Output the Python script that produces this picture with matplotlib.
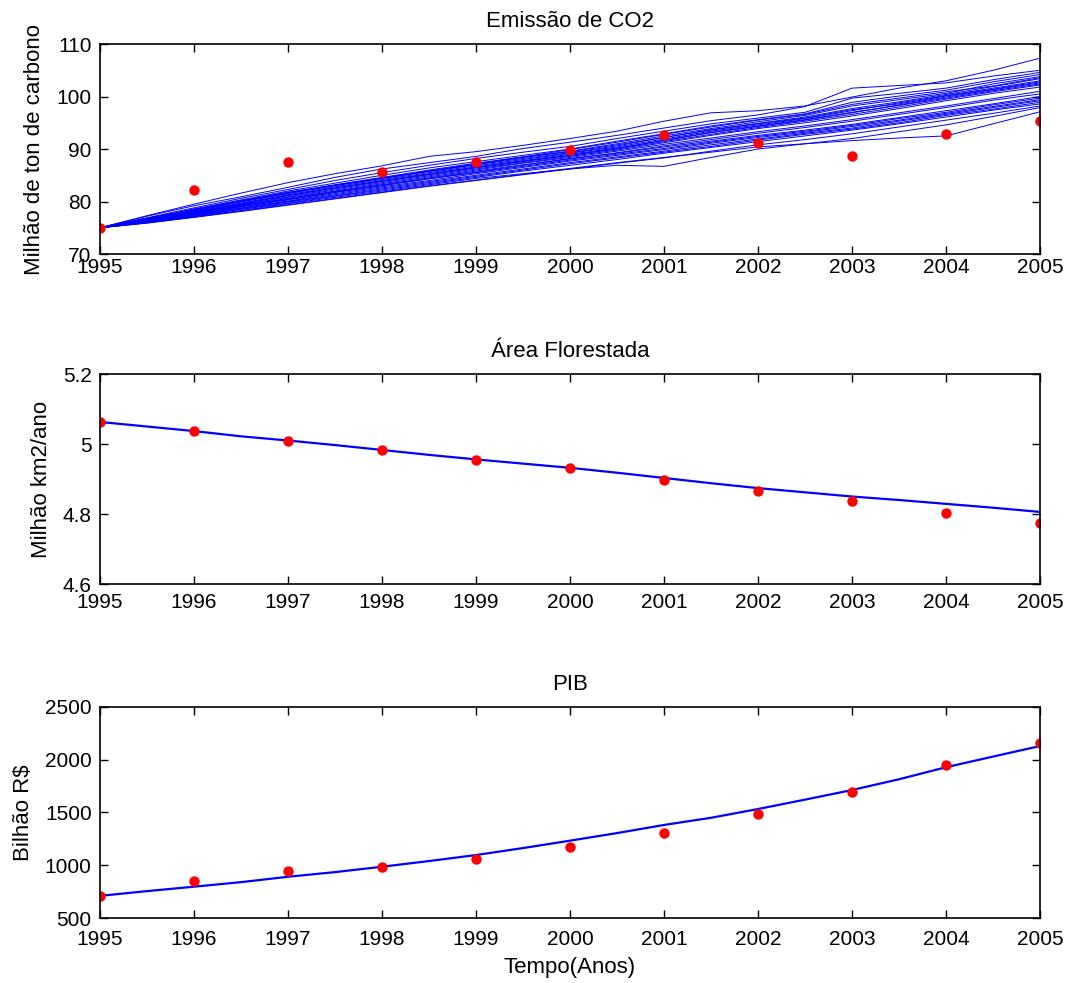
import matplotlib
matplotlib.use("Agg")
import matplotlib.pyplot as plt
import numpy as np

plt.rcParams['font.family'] = ['Liberation Sans', 'DejaVu Sans']

anos = [1995, 1996, 1997, 1998, 1999, 2000, 2001, 2002, 2003, 2004, 2005]
# simulation time grid (half-year steps)
t_sim = [1995.0, 1995.5, 1996.0, 1996.5, 1997.0, 1997.5, 1998.0, 1998.5, 1999.0, 1999.5,
         2000.0, 2000.5, 2001.0, 2001.5, 2002.0, 2002.5, 2003.0, 2003.5, 2004.0, 2004.5, 2005.0]

# observed data
co2_obs = [75.0, 82.1, 87.6, 85.7, 87.6, 89.9, 92.6, 91.2, 88.6, 92.8, 95.4]
area_obs = [5.063, 5.037, 5.009, 4.983, 4.954, 4.931, 4.897, 4.866, 4.837, 4.803, 4.774]
pib_obs = [708, 851, 948, 980, 1062, 1176, 1308, 1486, 1697, 1947, 2156]

# CO2 simulation runs
co2_runs = [
    [75.0, 77.3, 79.5, 81.6, 83.6, 85.3, 86.8, 88.6, 89.5, 90.7, 92.0, 93.4, 95.3, 96.9, 97.3, 98.2, 99.9, 101.6, 103.0, 105.0, 107.3],
    [75.0, 77.2, 79.2, 80.9, 82.7, 84.6, 86.2, 87.4, 88.6, 90.1, 91.3, 92.6, 94.0, 95.4, 96.5, 98.1, 101.6, 102.1, 102.6, 103.9, 105.0],
    [75.0, 76.9, 78.8, 80.6, 82.3, 84.0, 85.5, 86.9, 88.2, 89.4, 90.5, 92.0, 93.4, 94.8, 95.9, 97.0, 99.7, 100.6, 101.6, 103.2, 104.6],
    [75.0, 76.8, 78.6, 80.3, 82.0, 83.5, 85.0, 86.4, 87.6, 88.8, 90.0, 91.5, 92.9, 94.4, 95.6, 96.7, 98.9, 100.1, 101.2, 102.8, 104.2],
    [75.0, 76.7, 78.4, 80.1, 81.7, 83.2, 84.6, 86.0, 87.3, 88.5, 89.6, 91.0, 92.5, 93.9, 95.2, 96.4, 98.2, 99.4, 100.6, 102.4, 103.8],
    [75.0, 76.6, 78.2, 79.9, 81.5, 83.0, 84.4, 85.7, 87.0, 88.2, 89.3, 90.6, 92.2, 93.7, 94.9, 96.1, 97.7, 99.0, 100.4, 101.9, 103.4],
    [75.0, 76.5, 78.1, 79.7, 81.3, 82.8, 84.2, 85.5, 86.8, 88.0, 89.2, 90.4, 91.9, 93.4, 94.6, 95.8, 97.3, 98.8, 100.2, 101.6, 103.0],
    [75.0, 76.5, 78.0, 79.5, 81.1, 82.6, 84.0, 85.3, 86.6, 87.8, 89.0, 90.2, 91.6, 93.1, 94.3, 95.5, 96.9, 98.4, 99.9, 101.3, 102.6],
    [75.0, 76.4, 77.9, 79.4, 80.9, 82.4, 83.8, 85.1, 86.4, 87.6, 88.8, 90.0, 91.4, 92.8, 94.1, 95.3, 96.6, 98.0, 99.5, 100.9, 102.2],
    [75.0, 76.4, 77.8, 79.3, 80.8, 82.2, 83.6, 84.9, 86.2, 87.4, 88.6, 89.8, 91.2, 92.6, 93.9, 95.0, 96.3, 97.7, 99.2, 100.6, 101.8],
    [75.0, 76.3, 77.7, 79.1, 80.5, 81.9, 83.2, 84.5, 85.8, 87.0, 88.2, 89.2, 90.4, 91.5, 92.6, 93.6, 94.7, 96.0, 97.3, 98.6, 100.0],
    [75.0, 76.2, 77.6, 79.0, 80.3, 81.7, 83.0, 84.3, 85.5, 86.7, 87.9, 89.0, 90.1, 91.3, 92.4, 93.4, 94.5, 95.8, 97.0, 98.4, 99.7],
    [75.0, 76.2, 77.5, 78.8, 80.1, 81.5, 82.8, 84.0, 85.3, 86.5, 87.7, 88.8, 89.9, 91.1, 92.2, 93.2, 94.3, 95.5, 96.8, 98.1, 99.4],
    [75.0, 76.1, 77.4, 78.7, 80.0, 81.3, 82.6, 83.8, 85.0, 86.2, 87.4, 88.5, 89.6, 90.8, 91.9, 93.0, 94.0, 95.3, 96.6, 97.9, 99.2],
    [75.0, 76.1, 77.3, 78.6, 79.9, 81.1, 82.4, 83.6, 84.8, 86.0, 87.2, 88.3, 89.4, 90.5, 91.7, 92.8, 93.8, 95.0, 96.4, 97.6, 98.9],
    [75.0, 76.0, 77.2, 78.5, 79.7, 81.0, 82.2, 83.4, 84.6, 85.8, 86.9, 88.0, 89.2, 90.3, 91.4, 92.5, 93.6, 94.8, 96.1, 97.4, 98.6],
    [75.0, 76.0, 77.1, 78.3, 79.6, 80.8, 82.0, 83.2, 84.4, 85.3, 86.2, 86.9, 86.7, 88.4, 90.0, 91.0, 92.0, 93.3, 94.6, 96.2, 97.9],
    [75.0, 75.9, 77.0, 78.2, 79.4, 80.6, 81.8, 83.0, 84.1, 85.2, 86.3, 87.4, 88.4, 89.4, 90.4, 91.0, 91.6, 92.1, 92.5, 94.8, 97.1],
    [75.0, 75.9, 77.0, 78.1, 79.3, 80.5, 81.7, 82.9, 84.0, 85.1, 86.2, 87.3, 88.3, 89.6, 90.8, 91.8, 92.9, 94.2, 95.5, 96.8, 98.2],
    [75.0, 76.6, 78.3, 80.0, 81.6, 83.1, 84.5, 85.8, 87.1, 88.4, 89.5, 90.8, 92.2, 93.6, 94.8, 95.9, 97.5, 98.6, 100.1, 101.4, 102.8],
    [75.0, 76.3, 77.8, 79.2, 80.6, 82.0, 83.4, 84.7, 86.0, 87.3, 88.4, 89.6, 90.9, 92.1, 93.3, 94.4, 95.6, 96.9, 98.2, 99.6, 101.0],
    [75.0, 76.2, 77.6, 79.0, 80.4, 81.8, 83.1, 84.4, 85.6, 86.9, 88.1, 89.3, 90.6, 91.8, 93.0, 94.1, 95.3, 96.6, 97.9, 99.3, 100.5],
    [75.0, 76.5, 78.0, 79.6, 81.2, 82.6, 83.9, 85.2, 86.5, 87.7, 88.8, 90.1, 91.7, 93.2, 94.4, 95.6, 97.0, 98.3, 99.7, 101.1, 102.4],
    [75.0, 76.8, 78.5, 80.2, 81.8, 83.1, 84.4, 85.8, 87.2, 88.5, 89.9, 91.3, 92.8, 94.2, 95.5, 96.6, 98.5, 99.7, 100.9, 102.0, 103.6],
]

area_sim = [5.063, 5.050, 5.037, 5.022, 5.010, 4.997, 4.983, 4.969, 4.956, 4.944, 4.932,
            4.918, 4.903, 4.888, 4.874, 4.862, 4.850, 4.840, 4.829, 4.818, 4.806]
pib_sim = [710, 755, 797, 840, 891, 935, 986, 1040, 1097, 1163, 1233,
           1305, 1382, 1450, 1533, 1622, 1713, 1815, 1929, 2030, 2130]

fig = plt.figure(figsize=(10.7, 9.83), dpi=100)
left, width = 0.0935, 0.8785
ax1 = fig.add_axes([left, 0.7416, width, 0.2136])
ax2 = fig.add_axes([left, 0.4059, width, 0.2136])
ax3 = fig.add_axes([left, 0.0661, width, 0.2147])

lab_fs = 16
tick_fs = 15
ms = 7.5

for run in co2_runs:
    ax1.plot(t_sim, run, color='blue', linewidth=0.7)
ax1.plot(anos, co2_obs, 'o', color='red', markersize=ms, markeredgewidth=0)
ax1.set_ylim(70, 110)
ax1.set_yticks([70, 80, 90, 100, 110])
ax1.set_title('Emissão de CO2', fontsize=lab_fs, pad=12)
ax1.set_ylabel('Milhão de ton de carbono', fontsize=lab_fs, labelpad=8)

ax2.plot(t_sim, area_sim, color='blue', linewidth=1.6)
ax2.plot(anos, area_obs, 'o', color='red', markersize=ms, markeredgewidth=0)
ax2.set_ylim(4.6, 5.2)
ax2.set_yticks([4.6, 4.8, 5.0, 5.2])
ax2.set_yticklabels(['4.6', '4.8', '5', '5.2'])
ax2.set_title('Área Florestada', fontsize=lab_fs, pad=12)
ax2.set_ylabel('Milhão km2/ano', fontsize=lab_fs, labelpad=8)

ax3.plot(t_sim, pib_sim, color='blue', linewidth=1.6)
ax3.plot(anos, pib_obs, 'o', color='red', markersize=ms, markeredgewidth=0)
ax3.set_ylim(500, 2500)
ax3.set_yticks([500, 1000, 1500, 2000, 2500])
ax3.set_title('PIB', fontsize=lab_fs, pad=12)
ax3.set_ylabel('Bilhão R$', fontsize=lab_fs, labelpad=8)
ax3.set_xlabel('Tempo(Anos)', fontsize=lab_fs, labelpad=6)

for ax, xpad in ((ax1, 3), (ax2, 6.5), (ax3, 8.5)):
    ax.set_xlim(1995, 2005)
    ax.set_xticks(anos)
    ax.tick_params(direction='in', top=True, right=True, length=6, width=1,
                   labelsize=tick_fs)
    ax.tick_params(axis='x', pad=xpad)
    ax.tick_params(axis='y', pad=6)
    for s in ax.spines.values():
        s.set_linewidth(1.2)

fig.savefig('out.png', dpi=100)
